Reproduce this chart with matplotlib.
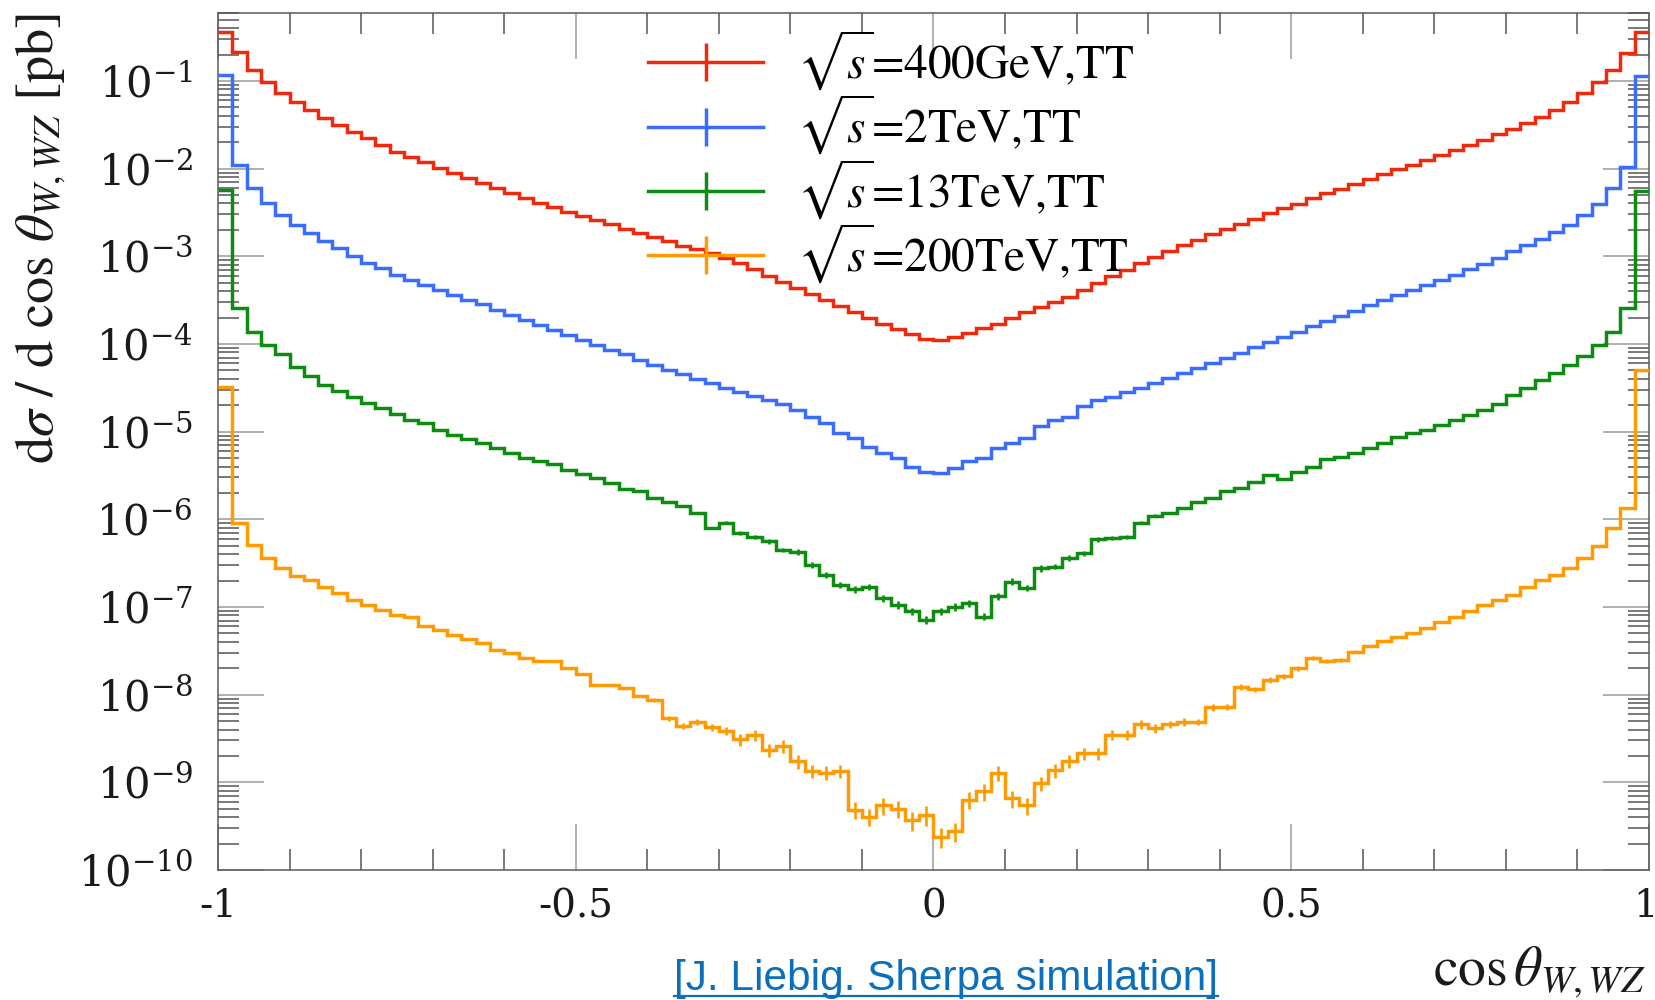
import numpy as np
import matplotlib
matplotlib.use("Agg")
import matplotlib.pyplot as plt
from matplotlib.lines import Line2D
from matplotlib.legend_handler import HandlerTuple
from matplotlib.ticker import LogLocator, FixedLocator, MultipleLocator, NullFormatter
from matplotlib.transforms import ScaledTranslation

# tick labels (incl. \mathdefault{10^{-n}}) use DejaVu Serif; other texts use STIX
plt.rcParams['font.family'] = ['DejaVu Serif']
plt.rcParams['mathtext.fontset'] = 'stix'
SERIF = ['STIXGeneral', 'DejaVu Serif']

# ---------------- data (100 bins of width 0.02 on [-1, 1]) ----------------
bin_edges = np.linspace(-1.0, 1.0, 101)

labels = [r'$\sqrt{s}$=400GeV,TT', r'$\sqrt{s}$=2TeV,TT',
          r'$\sqrt{s}$=13TeV,TT', r'$\sqrt{s}$=200TeV,TT']
colors = ['#f0280c', '#3a6cff', '#0e8c12', '#ff9a00']

# log10 of dsigma/dcos(theta) [pb], bin by bin
red_log10 = [
    -0.445, -0.666, -0.875, -1.008, -1.14, -1.236, -1.33, -1.425, -1.50, -1.578,
    -1.653, -1.73, -1.806, -1.863, -1.927, -1.988, -2.053, -2.11, -2.167, -2.224,
    -2.28, -2.338, -2.387, -2.44, -2.49, -2.54, -2.585, -2.634, -2.684, -2.737,
    -2.78, -2.83, -2.88, -2.92, -2.965, -3.02, -3.08, -3.15, -3.22, -3.29,
    -3.36, -3.43, -3.50, -3.57, -3.63, -3.70, -3.77, -3.83, -3.89, -3.94,
    -3.95, -3.92, -3.87, -3.82, -3.77, -3.70, -3.64, -3.58, -3.52, -3.46,
    -3.38, -3.31, -3.23, -3.16, -3.08, -3.01, -2.94, -2.87, -2.81, -2.75,
    -2.69, -2.63, -2.57, -2.51, -2.45, -2.40, -2.34, -2.28, -2.23, -2.17,
    -2.12, -2.06, -2.01, -1.96, -1.90, -1.85, -1.79, -1.73, -1.67, -1.61,
    -1.55, -1.48, -1.41, -1.33, -1.24, -1.14, -1.01, -0.875, -0.677, -0.445]

blue_log10 = [
    -0.93, -1.96, -2.22, -2.39, -2.53, -2.64, -2.74, -2.83, -2.91, -3.00,
    -3.08, -3.135, -3.21, -3.27, -3.33, -3.38, -3.44, -3.50, -3.55, -3.61,
    -3.67, -3.73, -3.78, -3.84, -3.90, -3.95, -4.01, -4.07, -4.12, -4.18,
    -4.24, -4.30, -4.34, -4.40, -4.45, -4.50, -4.55, -4.59, -4.64, -4.69,
    -4.75, -4.83, -4.90, -5.02, -5.07, -5.17, -5.245, -5.30, -5.40, -5.455,
    -5.47, -5.42, -5.34, -5.30, -5.19, -5.13, -5.07, -4.94, -4.865, -4.83,
    -4.71, -4.64, -4.60, -4.55, -4.50, -4.44, -4.39, -4.33, -4.27, -4.22,
    -4.16, -4.10, -4.04, -3.98, -3.92, -3.86, -3.80, -3.74, -3.68, -3.62,
    -3.56, -3.50, -3.44, -3.39, -3.33, -3.27, -3.21, -3.15, -3.09, -3.02,
    -2.94, -2.87, -2.80, -2.72, -2.64, -2.53, -2.40, -2.22, -1.98, -0.94]

green_log10 = [
    -2.243, -3.59, -3.86, -4.01, -4.12, -4.26, -4.37, -4.47, -4.54, -4.60,
    -4.675, -4.73, -4.80, -4.865, -4.90, -4.98, -5.04, -5.08, -5.13, -5.19,
    -5.245, -5.30, -5.34, -5.37, -5.44, -5.48, -5.53, -5.59, -5.66, -5.68,
    -5.76, -5.80, -5.85, -5.93, -6.10, -6.04, -6.16, -6.20, -6.25, -6.35,
    -6.37, -6.52, -6.63, -6.75, -6.80, -6.77, -6.90, -6.975, -7.05, -7.15,
    -7.05, -7.00, -6.96, -7.11, -6.88, -6.71, -6.78, -6.56, -6.54, -6.44,
    -6.39, -6.23, -6.21, -6.20, -6.04, -5.96, -5.93, -5.87, -5.80, -5.76,
    -5.68, -5.64, -5.57, -5.50, -5.54, -5.455, -5.40, -5.31, -5.29, -5.245,
    -5.19, -5.13, -5.06, -5.02, -4.98, -4.92, -4.865, -4.81, -4.75, -4.69,
    -4.58, -4.50, -4.41, -4.33, -4.24, -4.14, -4.01, -3.86, -3.59, -2.26]

orange_log10 = [
    -4.49, -6.04, -6.29, -6.44, -6.56, -6.65, -6.69, -6.77, -6.84, -6.92,
    -6.975, -7.03, -7.09, -7.11, -7.22, -7.26, -7.32, -7.37, -7.41, -7.49,
    -7.53, -7.58, -7.62, -7.62, -7.70, -7.77, -7.89, -7.89, -7.92, -8.02,
    -8.06, -8.27, -8.36, -8.31, -8.37, -8.41, -8.51, -8.46, -8.63, -8.58,
    -8.76, -8.87, -8.89, -8.87, -9.31, -9.39, -9.26, -9.30, -9.43, -9.37,
    -9.62, -9.56, -9.20, -9.10, -8.89, -9.18, -9.26, -9.01, -8.86, -8.76,
    -8.67, -8.67, -8.46, -8.46, -8.34, -8.38, -8.34, -8.31, -8.31, -8.14,
    -8.14, -7.91, -7.94, -7.83, -7.79, -7.70, -7.58, -7.62, -7.60, -7.51,
    -7.45, -7.39, -7.34, -7.30, -7.24, -7.17, -7.11, -7.05, -6.975, -6.92,
    -6.86, -6.77, -6.69, -6.63, -6.56, -6.44, -6.30, -6.10, -5.87, -4.30]

# relative statistical errors (only visible ones near the centre)
green_relerr = [0.0] * 35 + [
    0.04, 0.05, 0.05, 0.06, 0.06, 0.07, 0.07, 0.08, 0.08, 0.09,
    0.09, 0.09, 0.10, 0.10, 0.10, 0.10, 0.10, 0.10, 0.09, 0.09,
    0.09, 0.08, 0.08, 0.07, 0.07, 0.06, 0.06, 0.05, 0.05, 0.04,
    0.04] + [0.0] * 34
orange_relerr = [0.0] * 30 + [
    0.06, 0.07, 0.08, 0.08, 0.09, 0.10,
    0.15, 0.15, 0.17, 0.17, 0.18, 0.18, 0.18, 0.18,
    0.22, 0.22, 0.22, 0.22, 0.25, 0.25, 0.25, 0.25,
    0.22, 0.22, 0.20, 0.22, 0.22, 0.18, 0.18, 0.17,
    0.15, 0.15, 0.13, 0.13, 0.12, 0.12, 0.10, 0.10, 0.09, 0.09,
    0.08, 0.08, 0.07, 0.07, 0.06, 0.06, 0.05, 0.05, 0.05, 0.04] + [0.0] * 20

series_log10 = [red_log10, blue_log10, green_log10, orange_log10]
series_err = [None, None, green_relerr, orange_relerr]

x_major = [-1.0, -0.5, 0.0, 0.5, 1.0]
x_major_labels = ['-1', '-0.5', '0', '0.5', '1']

# ---------------- figure ----------------
W, H = 1656, 1000
fig = plt.figure(figsize=(W / 100, H / 100), dpi=100)
ax_l, ax_r, ax_t, ax_b = 218, 1649, 12.7, 870
ax = fig.add_axes([ax_l / W, 1 - ax_b / H, (ax_r - ax_l) / W, (ax_b - ax_t) / H])

centers = 0.5 * (bin_edges[:-1] + bin_edges[1:])
lw = 2.5
for logv, err, col in zip(series_log10, series_err, colors):
    vals = np.power(10.0, np.array(logv))
    ax.stairs(vals, bin_edges, color=col, lw=lw, baseline=None, zorder=3)
    if err is not None:
        e = np.array(err)
        m = e > 0
        ax.errorbar(centers[m], vals[m], yerr=vals[m] * e[m], fmt='none',
                    ecolor=col, elinewidth=1.9, capsize=0, zorder=3)

ax.set_xlim(-1, 1)
ax.set_yscale('log')
ax.set_ylim(1e-10, 0.6)

ax.xaxis.set_major_locator(FixedLocator(x_major))
ax.set_xticklabels(x_major_labels)
ax.xaxis.set_minor_locator(MultipleLocator(0.1))
ax.yaxis.set_major_locator(LogLocator(base=10, numticks=30))
ax.yaxis.set_minor_locator(LogLocator(base=10, subs=np.arange(2, 10), numticks=30))
ax.yaxis.set_minor_formatter(NullFormatter())

ax.tick_params(which='both', direction='in', top=True, right=True)
ax.tick_params(which='major', length=33, width=1.1, color='#9a9a9a')
ax.tick_params(which='minor', length=15, width=1.1, color='#555555')
ax.tick_params(axis='both', which='major', labelcolor='#1a1a1a')
ax.tick_params(axis='x', which='major', pad=13, labelsize=28)
ax.tick_params(axis='y', which='major', pad=18, labelsize=30)
for sp in ax.spines.values():
    sp.set_color('#5a5a5a')
    sp.set_linewidth(1.1)

# keep the last x tick label inside the picture
fig.canvas.draw()
last = ax.get_xticklabels()[-1]
last.set_horizontalalignment('right')
last.set_transform(last.get_transform() + ScaledTranslation(9 / 100, 0, fig.dpi_scale_trans))

# legend
handles = [(Line2D([], [], color=c, lw=lw),
            Line2D([], [], color=c, marker='|', markersize=28, markeredgewidth=lw,
                   linestyle='none')) for c in colors]
ax.legend(handles, labels, loc='upper left',
          bbox_to_anchor=(648 / W, 1 - 29 / H), bbox_transform=fig.transFigure,
          frameon=False, handlelength=2.44, handletextpad=0.72,
          labelspacing=0.0, borderpad=0, borderaxespad=0,
          prop={'family': SERIF, 'size': 34},
          handler_map={tuple: HandlerTuple(ndivide=1)})

# axis labels
fig.text(41 / W, 1 - 13 / H, r'd$\sigma$ / d cos $\theta_{W,WZ}$ [pb]',
         rotation=90, ha='center', va='top', fontsize=39, color='#1a1a1a',
         family=SERIF)
fig.text(1646 / W, 1 - 985 / H, r'$\cos\theta_{W,WZ}$', ha='right', va='baseline',
         fontsize=40, color='#1a1a1a', family=SERIF)

# citation (underlined link-like text)
cite = fig.text(946 / W, 1 - 990 / H, '[J. Liebig. Sherpa simulation]',
                ha='center', va='baseline', fontsize=30.5, color='#0a6fbf',
                family='Liberation Sans')
fig.canvas.draw()
bb = cite.get_window_extent()
uy = (1 - 996 / H)
fig.add_artist(Line2D([bb.x0 / W, bb.x1 / W], [uy, uy], transform=fig.transFigure,
                      color='#0a6fbf', lw=1.6))

fig.savefig('out.png', dpi=100)
